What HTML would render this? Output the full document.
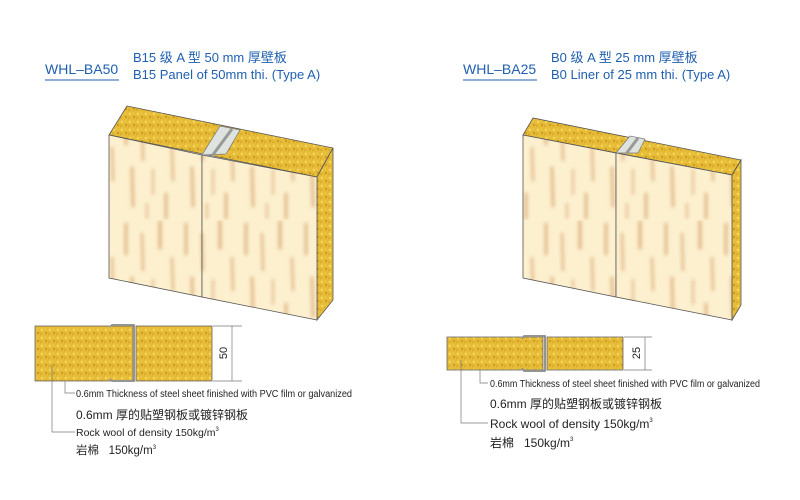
<!DOCTYPE html>
<html><head><meta charset="utf-8"><style>
html,body{margin:0;padding:0;background:#fff;}
svg{display:block}
.b{font-family:"Liberation Sans","Noto Sans CJK SC",sans-serif;fill:#1f5fb0;}
.k{font-family:"Liberation Sans","Noto Sans CJK SC",sans-serif;fill:#222;}
</style></head><body>
<svg width="800" height="500" viewBox="0 0 800 500" xmlns="http://www.w3.org/2000/svg">
<defs>
<filter id="bl"><feGaussianBlur stdDeviation="1.8"/></filter>
<pattern id="wood" width="60" height="110" patternUnits="userSpaceOnUse">
<rect width="60" height="110" fill="#fcf0cf"/>
<g stroke="#d6a06a" stroke-linecap="round" filter="url(#bl)" opacity="0.7">
<line x1="6" y1="4" x2="6" y2="34" stroke-width="3"/><line x1="22" y1="14" x2="23" y2="50" stroke-width="2.5"/>
<line x1="40" y1="2" x2="40" y2="28" stroke-width="3.5"/><line x1="52" y1="38" x2="53" y2="70" stroke-width="2.5"/>
<line x1="12" y1="58" x2="13" y2="96" stroke-width="3"/><line x1="33" y1="60" x2="33" y2="84" stroke-width="2"/>
<line x1="46" y1="84" x2="46" y2="108" stroke-width="3"/><line x1="27" y1="94" x2="27" y2="108" stroke-width="2"/>
</g></pattern>
<pattern id="wool" width="8" height="8" patternUnits="userSpaceOnUse">
<rect width="8" height="8" fill="#e6bb36"/>
<circle cx="2" cy="2" r="1.2" fill="#f4d860"/><circle cx="6" cy="5" r="1.1" fill="#c9961f"/>
<circle cx="5" cy="1" r="0.8" fill="#f0d050"/><circle cx="1" cy="6" r="0.9" fill="#d4a428"/>
</pattern>
</defs>

<text x="45" y="74" class="b" font-size="14">WHL–BA50</text>
<line x1="45" y1="80" x2="119" y2="80" stroke="#1f5fb0" stroke-width="1"/>
<text x="133" y="62" class="b" font-size="13">B15 级 A 型 50 mm 厚壁板</text>
<text x="133" y="79" class="b" font-size="13">B15 Panel of 50mm thi. (Type A)</text>

<g stroke="#555" stroke-width="0.8">
<polygon points="109,135 127,106 333,148 317,177" fill="url(#wool)"/>
<polygon points="317,177 333,148 333,300 317,320" fill="url(#wool)"/>
<polygon points="109,135 202,155 202,297 109,278" fill="url(#wood)"/>
<polygon points="202,155 317,177 317,320 202,297" fill="url(#wood)"/>
</g>
<polygon points="202,155 226,154 240,130 220,126" fill="#dfe3df" stroke="#777" stroke-width="0.7"/>
<line x1="212" y1="156" x2="232" y2="129" stroke="#999" stroke-width="3"/>

<text x="463" y="74" class="b" font-size="14">WHL–BA25</text>
<line x1="463" y1="80" x2="537" y2="80" stroke="#1f5fb0" stroke-width="1"/>
<text x="551" y="62" class="b" font-size="13">B0 级 A 型 25 mm 厚壁板</text>
<text x="551" y="79" class="b" font-size="13">B0 Liner of 25 mm thi. (Type A)</text>

<g stroke="#555" stroke-width="0.8">
<polygon points="523,135 533,118 741,160 732,175" fill="url(#wool)"/>
<polygon points="732,175 741,160 741,305 732,320" fill="url(#wool)"/>
<polygon points="523,135 616,153 616,297 523,278" fill="url(#wood)"/>
<polygon points="616,153 732,175 732,320 616,297" fill="url(#wood)"/>
</g>
<polygon points="616,153 638,153 645,139 630,136" fill="#dfe3df" stroke="#777" stroke-width="0.7"/>
<line x1="626" y1="154" x2="638" y2="138" stroke="#999" stroke-width="3"/>

<rect x="35" y="326" width="98" height="55" fill="url(#wool)" stroke="#666" stroke-width="0.8"/>
<rect x="136" y="326" width="76" height="55" fill="url(#wool)" stroke="#666" stroke-width="0.8"/>
<polyline points="110,327 112,325 134,325 134,381 112,381 110,379" fill="none" stroke="#aaa" stroke-width="2"/>
<polyline points="110,327 112,325 134,325 134,381 112,381 110,379" fill="none" stroke="#555" stroke-width="0.5"/>
<g stroke="#777" stroke-width="0.7">
<line x1="213" y1="326" x2="242" y2="326"/><line x1="213" y1="381" x2="242" y2="381"/>
<line x1="232" y1="326" x2="232" y2="381"/>
<polyline points="65,381 65,393 75,393" fill="none"/>
<polyline points="52,365 52,432 75,432" fill="none"/>
</g>
<text x="0" y="0" class="k" font-size="11" transform="translate(227,353) rotate(-90)" text-anchor="middle">50</text>
<text x="76" y="397" class="k" font-size="10" textLength="276" lengthAdjust="spacingAndGlyphs">0.6mm Thickness of steel sheet finished with PVC film or galvanized</text>
<text x="76" y="419" class="k" font-size="12">0.6mm 厚的贴塑钢板或镀锌钢板</text>
<text x="76" y="436" class="k" font-size="10.5">Rock wool of density 150kg/m<tspan font-size="6" dy="-5">3</tspan></text>
<text x="76" y="454" class="k" font-size="11.5">岩棉&#160;&#160;&#160;150kg/m<tspan font-size="6" dy="-5">3</tspan></text>

<rect x="447" y="337" width="96" height="33" fill="url(#wool)" stroke="#666" stroke-width="0.8"/>
<rect x="547" y="337" width="76" height="33" fill="url(#wool)" stroke="#666" stroke-width="0.8"/>
<polyline points="522,339 524,336 545,336 545,371 524,371 522,368" fill="none" stroke="#aaa" stroke-width="2"/>
<polyline points="522,339 524,336 545,336 545,371 524,371 522,368" fill="none" stroke="#555" stroke-width="0.5"/>
<g stroke="#777" stroke-width="0.7">
<line x1="624" y1="337" x2="652" y2="337"/><line x1="624" y1="370" x2="652" y2="370"/>
<line x1="645" y1="337" x2="645" y2="370"/>
<polyline points="480,370 480,383 488,383" fill="none"/>
<polyline points="461,360 461,423 488,423" fill="none"/>
</g>
<text x="0" y="0" class="k" font-size="11" transform="translate(640,353) rotate(-90)" text-anchor="middle">25</text>
<text x="490" y="387" class="k" font-size="10" textLength="270" lengthAdjust="spacingAndGlyphs">0.6mm Thickness of steel sheet finished with PVC film or galvanized</text>
<text x="490" y="408" class="k" font-size="12">0.6mm 厚的贴塑钢板或镀锌钢板</text>
<text x="490" y="428" class="k" font-size="12">Rock wool of density 150kg/m<tspan font-size="6" dy="-6">3</tspan></text>
<text x="490" y="447" class="k" font-size="12">岩棉&#160;&#160;&#160;150kg/m<tspan font-size="6" dy="-6">3</tspan></text>
</svg>
</body></html>
